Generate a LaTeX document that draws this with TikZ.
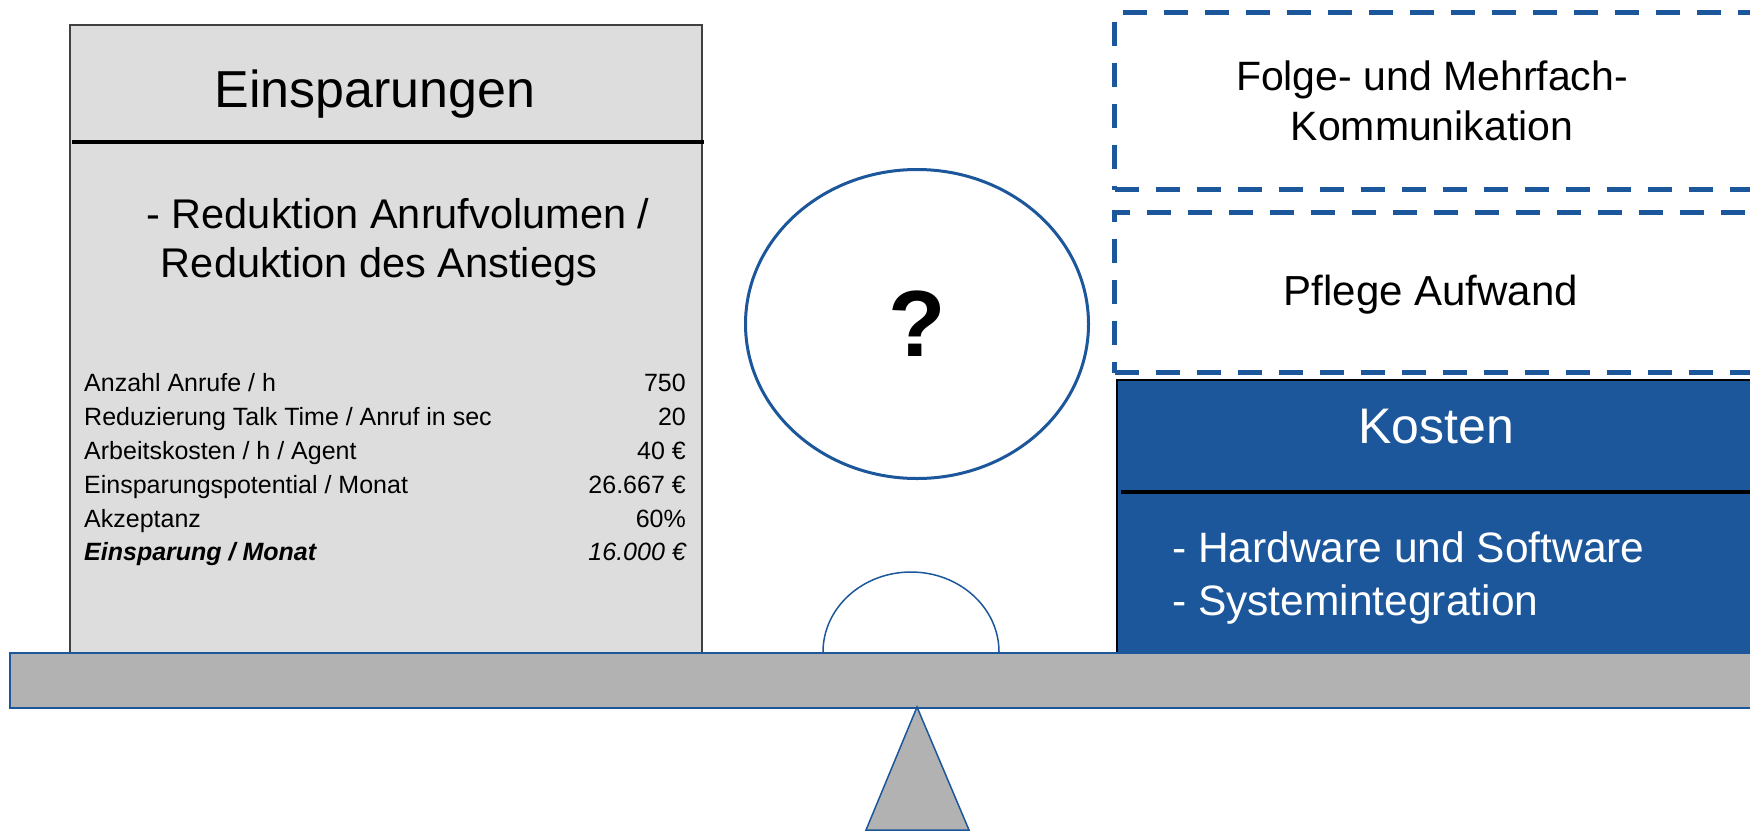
\documentclass[tikz,border=0pt]{standalone}
\usepackage{fontspec}
\setmainfont{Liberation Sans}
\usetikzlibrary{shapes.geometric}
\definecolor{bblue}{RGB}{28,86,155}
\definecolor{boxgray}{RGB}{221,221,221}
\definecolor{plankgray}{RGB}{178,178,178}
\definecolor{edgegray}{RGB}{64,64,64}
\begin{document}
\begin{tikzpicture}[x=1pt,y=-1pt,
  txt/.style={inner sep=0pt, anchor=base},
  lefttxt/.style={inner sep=0pt, anchor=base west},
  righttxt/.style={inner sep=0pt, anchor=base east},
  tablefont/.style={font=\fontsize{25}{30}\selectfont},
  dashbox/.style={draw=bblue, line width=5pt, dash pattern=on 24pt off 17pt, anchor=north west, inner sep=0pt},
  headline/.style={line width=3.5pt, draw=black}]
\useasboundingbox (0,0) rectangle (1750,831);

% left box
\node[draw=edgegray, line width=2pt, fill=boxgray, anchor=north west, inner sep=0pt,
      minimum width=632pt, minimum height=628pt] (spar) at (69,24) {};
\coordinate (sparL) at (72,142);
\coordinate (sparR) at (704,142);
\draw[headline] (sparL) -- (sparR);
\node[txt, font=\fontsize{52}{60}\selectfont] (sparT) at (375,107) {Einsparungen};
\node[txt, font=\fontsize{41.5}{50}\selectfont] (red1) at (398,228) {- Reduktion Anrufvolumen /};
\node[txt, font=\fontsize{41.5}{50}\selectfont] (red2) at (379,277) {Reduktion des Anstiegs};

% table
\node[lefttxt, tablefont] (l1) at (84,391) {Anzahl Anrufe / h};
\node[righttxt, tablefont] (v1) at (686,391) {750};
\node[lefttxt, tablefont] (l2) at (84,425) {Reduzierung Talk Time / Anruf in sec};
\node[righttxt, tablefont] (v2) at (686,425) {20};
\node[lefttxt, tablefont] (l3) at (84,459) {Arbeitskosten / h / Agent};
\node[righttxt, tablefont] (v3) at (686,459) {40 €};
\node[lefttxt, tablefont] (l4) at (84,493) {Einsparungspotential / Monat};
\node[righttxt, tablefont] (v4) at (686,493) {26.667 €};
\node[lefttxt, tablefont] (l5) at (84,527) {Akzeptanz};
\node[righttxt, tablefont] (v5) at (686,527) {60\%};
\node[lefttxt, tablefont] (l6) at (84,560) {\bfseries\itshape Einsparung / Monat};
\node[righttxt, tablefont] (v6) at (686,560) {\itshape 16.000 €};

% dashed boxes
\node[dashbox, minimum width=645pt, minimum height=177pt] (folge) at (1112,10) {};
\node[txt, font=\fontsize{41}{50}\selectfont] (folgeA) at (1432,90) {Folge- und Mehrfach-};
\node[txt, font=\fontsize{41}{50}\selectfont] (folgeB) at (1432,140) {Kommunikation};
\node[dashbox, minimum width=645pt, minimum height=160pt] (pflege) at (1112,210) {};
\node[txt, font=\fontsize{42}{50}\selectfont] (pflegeT) at (1431,305) {Pflege Aufwand};

% Kosten box
\node[draw=black, line width=1.5pt, fill=bblue, anchor=north west, inner sep=0pt,
      minimum width=650pt, minimum height=273pt] (kosten) at (1116,379) {};
\coordinate (kostL) at (1121,492);
\coordinate (kostR) at (1770,492);
\draw[headline] (kostL) -- (kostR);
\node[txt, text=white, font=\fontsize{50}{60}\selectfont] (kostT) at (1436,443) {Kosten};
\node[lefttxt, text=white, font=\fontsize{42.5}{50}\selectfont] (hw) at (1172,562) {- Hardware und Software};
\node[lefttxt, text=white, font=\fontsize{42.5}{50}\selectfont] (si) at (1172,615) {- Systemintegration};

% ellipse with question mark
\node[ellipse, draw=bblue, line width=3pt, fill=white, minimum width=343pt, minimum height=309pt,
      inner sep=0pt, font=\bfseries\fontsize{94}{100}\selectfont] (q) at (917,324) {?};

% semicircle on plank
\coordinate (semiL) at (823,652);
\draw[bblue, line width=1.5pt, fill=white] (semiL) arc[start angle=180, end angle=0, x radius=88pt, y radius=80pt];

% plank
\node[draw=bblue, line width=1.5pt, fill=plankgray, anchor=north west, inner sep=0pt,
      minimum width=1770pt, minimum height=55pt] (plank) at (9,652) {};

% fulcrum
\coordinate (apex) at (917,707);
\coordinate (baseL) at (866,830);
\coordinate (baseR) at (969,830);
\draw[bblue, line width=1.5pt, fill=plankgray] (apex) -- (baseL) -- (baseR) -- cycle;
\end{tikzpicture}
\end{document}
